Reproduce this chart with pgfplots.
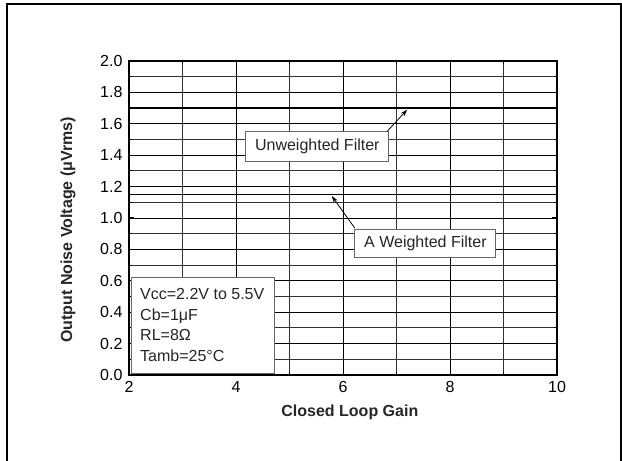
\documentclass[border=0pt]{standalone}
\usepackage{fontspec}
\setmainfont{Liberation Sans}
\usepackage{pgfplots}
\pgfplotsset{compat=1.18}
\usetikzlibrary{arrows.meta}
\begin{document}
\begin{tikzpicture}
\useasboundingbox (0,0) rectangle (622bp,461bp);
\draw[line width=2bp] (7bp,-5bp) -- (7bp,457bp) -- (621bp,457bp) -- (621bp,-5bp);
\begin{axis}[
  at={(129bp,86bp)}, anchor=south west,
  scale only axis, width=428bp, height=314bp,
  xmin=2, xmax=10, ymin=0, ymax=2,
  xtick={2,4,6,8,10}, minor xtick={3,5,7,9},
  ytick={0,0.2,0.4,0.6,0.8,1.0,1.2,1.4,1.6,1.8,2.0},
  minor ytick={0.1,0.3,0.5,0.7,0.9,1.1,1.3,1.5,1.7,1.9},
  grid=both,
  major grid style={black, line width=0.8bp},
  minor grid style={black!80, line width=0.8bp},
  axis line style={line width=1.2bp},
  tick style={black, line width=1bp},
  major tick length=5bp, minor tick length=3bp,
  tick align=inside,
  yticklabel style={/pgf/number format/fixed, /pgf/number format/fixed zerofill, /pgf/number format/precision=1, xshift=-3bp},
  xticklabel style={yshift=-3bp},
  /pgf/number format/assume math mode=true,
  ticklabel style={font=\fontsize{16bp}{18bp}\selectfont},
  xlabel={Closed Loop Gain},
  ylabel={Output Noise Voltage (μVrms)},
  label style={font=\bfseries\fontsize{16bp}{18bp}\selectfont, text=black!85},
  xlabel style={at={(axis description cs:0.516,-0.12)}, anchor=center},
  ylabel style={at={(axis description cs:-0.1425,0.462)}, anchor=center},
]
\addplot[black, line width=1.5bp] coordinates {(2,1.7) (10,1.7)};
\addplot[black, line width=1.5bp] coordinates {(2,1.15) (10,1.15)};

\draw[-{Stealth[length=7bp,width=4.5bp]}, line width=0.8bp] (axis cs:6.82,1.55) -- (axis cs:7.2,1.69);
\draw[-{Stealth[length=7bp,width=4.5bp]}, line width=0.8bp] (axis cs:6.22,0.936) -- (axis cs:5.79,1.14);

\node[draw=black!60, line width=0.8bp, fill=white, text=black!85, minimum width=143bp, minimum height=30bp, inner sep=0pt, font=\fontsize{16bp}{18bp}\selectfont] at (axis cs:5.52,1.454) {Unweighted Filter};
\node[draw=black!60, line width=0.8bp, fill=white, text=black!85, minimum width=141bp, minimum height=28bp, inner sep=0pt, font=\fontsize{16bp}{18bp}\selectfont] at (axis cs:7.54,0.84) {A Weighted Filter};

\draw[draw=black!60, line width=0.8bp, fill=white] (axis cs:2.04,0.01) rectangle (axis cs:4.71,0.624);
\node[anchor=base west, inner sep=0pt, text=black!85, font=\fontsize{16bp}{18bp}\selectfont] at (axis cs:2.206,0.481) {Vcc=2.2V to 5.5V};
\node[anchor=base west, inner sep=0pt, text=black!85, font=\fontsize{16bp}{18bp}\selectfont] at (axis cs:2.206,0.350) {Cb=1μF};
\node[anchor=base west, inner sep=0pt, text=black!85, font=\fontsize{16bp}{18bp}\selectfont] at (axis cs:2.206,0.217) {RL=8Ω};
\node[anchor=base west, inner sep=0pt, text=black!85, font=\fontsize{16bp}{18bp}\selectfont] at (axis cs:2.206,0.083) {Tamb=25°C};
\end{axis}
\end{tikzpicture}
\end{document}
